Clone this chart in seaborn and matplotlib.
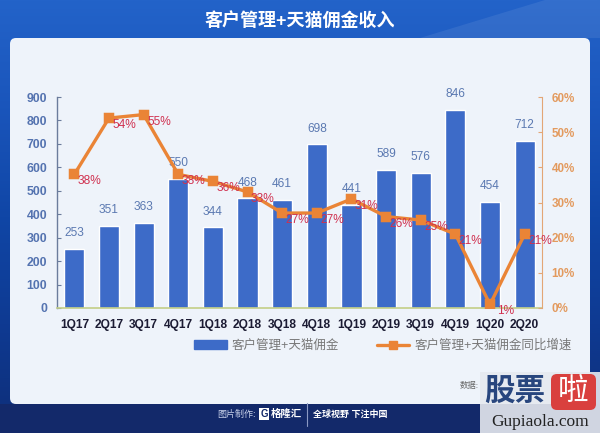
import matplotlib
matplotlib.use("Agg")
import matplotlib.pyplot as plt
import seaborn as sns
from matplotlib.patches import Patch, Rectangle, FancyBboxPatch, Polygon
from matplotlib.lines import Line2D
from matplotlib.colors import LinearSegmentedColormap
import numpy as np

quarters = ['1Q17', '2Q17', '3Q17', '4Q17', '1Q18', '2Q18', '3Q18',
            '4Q18', '1Q19', '2Q19', '3Q19', '4Q19', '1Q20', '2Q20']
revenue = [253, 351, 363, 550, 344, 468, 461, 698, 441, 589, 576, 846, 454, 712]
growth = [38, 54, 55, 38, 36, 33, 27, 27, 31, 26, 25, 21, 1, 21]
rev_ticks = list(range(0, 901, 100))
pct_ticks = list(range(0, 61, 10))

title = '客户管理+天猫佣金收入'
bar_name = '客户管理+天猫佣金'
line_name = '客户管理+天猫佣金同比增速'

BAR = '#3D6BC8'
LINE = '#EA8436'

sns.set_style('white')
plt.rcParams['font.family'] = ['Liberation Sans', 'Noto Sans CJK SC', 'DejaVu Sans']

W, H = 600, 433
fig = plt.figure(figsize=(6, 4.33), dpi=100)

# background: blue frame, light panel, navy footer
bg = fig.add_axes([0, 0, 1, 1], zorder=-10)
bg.set_xlim(0, W)
bg.set_ylim(H, 0)
bg.axis('off')
cmap = LinearSegmentedColormap.from_list(
    'frame', ['#2363C9', '#1A55BB', '#1046A6', '#0E3A92', '#0E2E78'])
grad = np.linspace(0, 1, 256).reshape(-1, 1)
bg.imshow(grad, cmap=cmap, extent=[0, W, H, 0], aspect='auto')
bg.add_patch(Polygon([(420, 38), (545, 0), (W, 0), (W, 38)],
                     closed=True, color='white', alpha=0.08, lw=0))
bg.add_patch(Rectangle((0, 404), W, H - 404, color='#13296A', lw=0))
bg.add_patch(FancyBboxPatch((10, 38), 580, 366,
                            boxstyle='round,pad=0,rounding_size=6',
                            fc='#EEF3FA', ec='none'))
bg.text(300, 21, title, color='white', fontsize=13, fontweight='bold',
        ha='center', va='center')

# footer
bg.text(217, 414, '图片制作:', color='#C9D2EA', fontsize=6.5, ha='left', va='center')
bg.text(264, 414, 'G', color='#13296A', fontsize=7, fontweight='bold', ha='center',
        va='center', bbox=dict(boxstyle='square,pad=0.15', fc='white', ec='none'))
bg.text(271, 414, '格隆汇', color='white', fontsize=7.5, fontweight='bold',
        ha='left', va='center')
bg.plot([307, 307], [403, 426], color='#8A98C4', lw=0.8)
bg.text(313, 414, '全球视野 下注中国', color='white', fontsize=6.5, fontweight='bold',
        ha='left', va='center')
bg.text(460, 386, '数据:', color='#666666', fontsize=6, ha='left', va='center')

# watermark
bg.add_patch(Rectangle((480, 372), 120, 61, color='#E6E9EF', alpha=0.9, lw=0))
bg.text(515, 392, '股票', color='#28467E', fontsize=22, fontweight='bold',
        ha='center', va='center')
bg.add_patch(FancyBboxPatch((551, 374), 45, 36, boxstyle='round,pad=0,rounding_size=6',
                            fc='#D9403E', ec='none'))
bg.text(573, 392, '啦', color='white', fontsize=22, ha='center', va='center')
bg.text(540, 422, 'Gupiaola.com', color='#222222', fontsize=12.5,
        family='Liberation Serif', ha='center', va='center')

# main chart
ax = fig.add_axes([57 / W, 1 - 308 / H, 485 / W, 211 / H])
ax.set_facecolor('none')
sns.barplot(x=quarters, y=revenue, ax=ax, color=BAR, saturation=1, width=0.58, zorder=2)
ax.bar_label(ax.containers[0], labels=[str(v) for v in revenue], padding=7,
             color='#5B79B1', fontsize=8.6)
ax.set_ylim(0, 900)
ax.set_yticks(rev_ticks)
ax.set_xlim(-0.5, len(quarters) - 0.5)
ax.set_xlabel('')
ax.set_ylabel('')
ax.set_xticks(np.arange(len(quarters)) - 0.5, minor=True)
ax.tick_params(axis='x', which='major', length=0, pad=8, labelsize=8.6,
               labelcolor='#1B1B33')
ax.tick_params(axis='x', which='minor', direction='in', length=3, color='#A9BD6F')
for lab in ax.get_xticklabels():
    lab.set_fontweight('bold')
ax.tick_params(axis='y', direction='in', length=3, color='#6B7C9C', pad=7,
               labelsize=8.8, labelcolor='#5473B0')
for lab in ax.get_yticklabels():
    lab.set_fontweight('bold')
for side in ['top', 'right']:
    ax.spines[side].set_visible(False)
ax.spines['left'].set_color('#6B7C9C')
ax.spines['bottom'].set_color('#C3CE86')
ax.spines['left'].set_linewidth(1)
ax.spines['bottom'].set_linewidth(1.2)

ax2 = ax.twinx()
ax2.set_facecolor('none')
sns.pointplot(x=quarters, y=growth, ax=ax2, color=LINE, markers='s',
              errorbar=None, linewidth=2.4, markersize=6)
for i, g in enumerate(growth):
    ax2.annotate(f'{g}%', xy=(i, g), xytext=(11, -5), textcoords='offset points',
                 ha='center', va='center', color='#D0304F', fontsize=8.6)
ax2.set_ylim(0, 60)
ax2.set_yticks(pct_ticks)
ax2.set_yticklabels([f'{t}%' for t in pct_ticks])
ax2.set_xlim(-0.5, len(quarters) - 0.5)
ax2.set_ylabel('')
ax2.tick_params(axis='y', direction='in', length=3, color='#E3A676', pad=7,
                labelsize=8.4, labelcolor='#E39A5E')
for lab in ax2.get_yticklabels():
    lab.set_fontweight('bold')
for side in ['top', 'left', 'bottom']:
    ax2.spines[side].set_visible(False)
ax2.spines['right'].set_color('#E3A676')

handles = [Patch(color=BAR),
           Line2D([0], [0], color=LINE, lw=2.4, marker='s', markersize=6)]
fig.legend(handles, [bar_name, line_name], loc='center', ncol=2,
           bbox_to_anchor=(383 / W, 1 - 346 / H), frameon=False,
           fontsize=9, labelcolor='#777777', handlelength=2.6,
           columnspacing=3.0, handletextpad=0.4)

fig.savefig('out.png', dpi=100)
